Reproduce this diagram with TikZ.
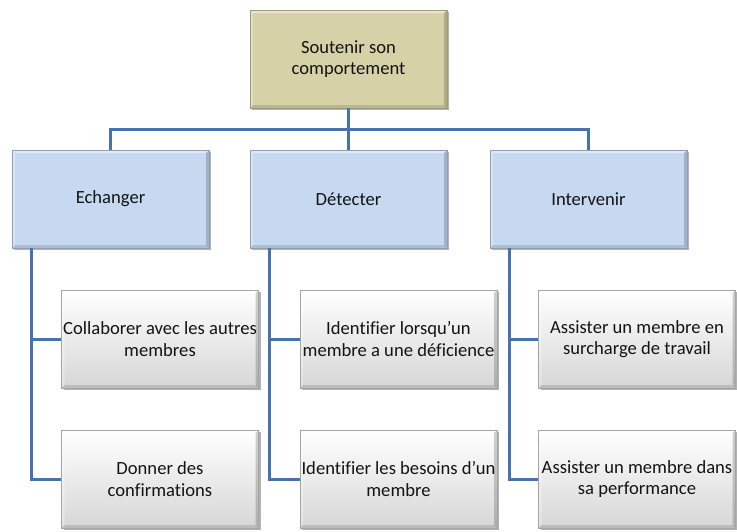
\documentclass[tikz,border=0pt]{standalone}
\usepackage{fontspec}
\setmainfont[Ligatures=NoCommon]{Carlito}
\usetikzlibrary{shadows}
\definecolor{tanfill}{RGB}{215,209,168}
\definecolor{tanedge}{RGB}{160,154,120}
\definecolor{bluefill}{RGB}{198,217,240}
\definecolor{blueedge}{RGB}{140,160,185}
\definecolor{grayedge}{RGB}{165,165,165}
\definecolor{linkblue}{RGB}{72,114,172}
\definecolor{txt}{RGB}{20,20,20}
\tikzset{
  bevel/.style={path picture={
    \fill[white, opacity=0.45] (path picture bounding box.north west) -- (path picture bounding box.north east)
      -- ([xshift=-3pt, yshift=-3pt]path picture bounding box.north east) -- ([xshift=3pt, yshift=-3pt]path picture bounding box.north west) -- cycle;
    \fill[white, opacity=0.3] (path picture bounding box.north west) -- ([xshift=3pt, yshift=-3pt]path picture bounding box.north west)
      -- ([xshift=3pt, yshift=3pt]path picture bounding box.south west) -- (path picture bounding box.south west) -- cycle;
    \fill[black, opacity=0.18] (path picture bounding box.south east) -- (path picture bounding box.north east)
      -- ([xshift=-3pt, yshift=-3pt]path picture bounding box.north east) -- ([xshift=-3pt, yshift=3pt]path picture bounding box.south east) -- cycle;
    \fill[black, opacity=0.12] (path picture bounding box.south west) -- (path picture bounding box.south east)
      -- ([xshift=-3pt, yshift=3pt]path picture bounding box.south east) -- ([xshift=3pt, yshift=3pt]path picture bounding box.south west) -- cycle;
  }},
  boxbase/.style={rectangle, minimum width=197pt, minimum height=98pt, align=center,
    inner sep=0pt, text=txt, font=\fontsize{18.6}{21.5}\selectfont, line width=0.5pt, bevel,
    drop shadow={shadow xshift=2pt, shadow yshift=-2pt, opacity=0.3, fill=black}},
  topbox/.style={boxbase, fill=tanfill, draw=tanedge},
  midbox/.style={boxbase, fill=bluefill, draw=blueedge},
  leafbox/.style={boxbase, top color=white, bottom color=black!16, draw=grayedge},
  link/.style={draw=linkblue, line width=3pt}
}
\begin{document}
\begin{tikzpicture}[x=1pt, y=-1pt]
\useasboundingbox (0,0) rectangle (737,531);
\node[topbox] (top) at (348.5,59) {Soutenir son\\comportement};
\node[midbox] (e) at (110.5,199) {Echanger};
\node[midbox] (d) at (348.5,199) {Détecter};
\node[midbox] (i) at (588.5,199) {Intervenir};
\node[leafbox] (e1) at (160,339) {Collaborer avec les autres\\membres};
\node[leafbox] (e2) at (160,479) {Donner des\\confirmations};
\node[leafbox] (d1) at (398.5,339) {Identifier lorsqu’un\\membre a une déficience};
\node[leafbox] (d2) at (398.5,479) {Identifier les besoins d’un\\membre};
\node[leafbox] (i1) at (637,339) {Assister un membre en\\surcharge de travail};
\node[leafbox] (i2) at (637,479) {Assister un membre dans\\sa performance};
\coordinate (bus) at (348.5,129);
\draw[link] (top.south) -- (d.north);
\draw[link] (e.north) -- (e.north |- bus) -- (i.north |- bus) -- (i.north);
\coordinate (ev) at ([xshift=20pt]e.south west);
\coordinate (dv) at ([xshift=20pt]d.south west);
\coordinate (iv) at ([xshift=20pt]i.south west);
\draw[link] (ev) |- (e1.west);
\draw[link] (ev) |- (e2.west);
\draw[link] (dv) |- (d1.west);
\draw[link] (dv) |- (d2.west);
\draw[link] (iv) |- (i1.west);
\draw[link] (iv) |- (i2.west);
\end{tikzpicture}
\end{document}
